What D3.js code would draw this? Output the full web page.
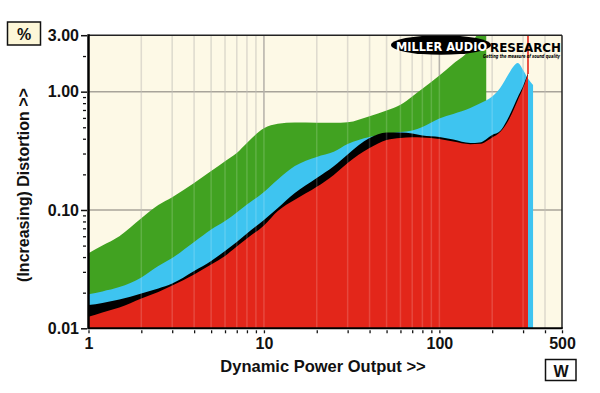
<!DOCTYPE html>
<html><head><meta charset="utf-8">
<script src="https://cdn.jsdelivr.net/npm/d3@7"></script>
<style>
html,body{margin:0;padding:0;background:#fff;}
svg{display:block;font-family:"Liberation Sans",Arial,sans-serif;}
</style>
</head><body>
<svg id="c" width="600" height="393"></svg>
<script>
// ---- data (power in W, distortion in %) ----
const greenW = [1,1.2,1.5,2,2.5,3,4,5,6,7,8,10,12,15,20,25,30,40,50,60,70,80,100,120,150,165,185];
const greenV = [0.043,0.050,0.060,0.085,0.110,0.128,0.169,0.213,0.258,0.303,0.368,0.49,0.535,0.549,0.546,0.545,0.552,0.621,0.692,0.775,0.911,1.056,1.371,1.721,2.323,3.0,3.0];

const blueW = [1,1.2,1.5,2,2.5,3,4,5,6,7,8,10,12,15,20,25,30,40,50,60,70,80,100,120,150,170,200,222,250,263,280,300,320,342];
const blueV = [0.0194,0.0205,0.0223,0.0269,0.0336,0.0393,0.0536,0.0684,0.0807,0.0953,0.111,0.142,0.181,0.235,0.281,0.310,0.361,0.414,0.439,0.456,0.470,0.503,0.594,0.648,0.728,0.795,0.911,1.075,1.439,1.618,1.749,1.526,1.293,1.139];

const blackW = [1,1.2,1.5,2,2.5,3,4,5,6,7,8,10,12,15,20,25,30,40,50,60,70,80,100,120,150,170,200,222,250,280,300,320];
const blackV = [0.0157,0.0164,0.0175,0.0197,0.0217,0.0239,0.0305,0.0371,0.0450,0.0536,0.0633,0.0823,0.104,0.139,0.186,0.234,0.295,0.405,0.452,0.452,0.443,0.425,0.414,0.394,0.368,0.372,0.431,0.465,0.623,0.902,1.117,1.439];

const redW = [1,1.2,1.5,2,2.5,3,4,5,6,7,8,10,12,15,20,25,30,40,50,60,70,80,100,120,150,170,200,222,250,280,300,320];
const redV = [0.0125,0.0136,0.0150,0.0179,0.0203,0.0230,0.0285,0.0346,0.0409,0.0491,0.0574,0.0740,0.098,0.122,0.157,0.198,0.250,0.334,0.391,0.406,0.412,0.410,0.398,0.379,0.360,0.362,0.410,0.456,0.588,0.851,1.075,1.411];

const redClipW = 320; // red trace shoots off the top here

const yMajor = [0.01,0.1,1,3];
const yMajorLabels = ["0.01","0.10","1.00","3.00"];
const yMinor = [0.02,0.03,0.04,0.05,0.06,0.07,0.08,0.09,0.2,0.3,0.4,0.5,0.6,0.7,0.8,0.9,2];
const xMajor = [1,10,100,500];
const xMajorLabels = ["1","10","100","500"];
const xMinor = [2,3,4,5,6,7,8,9,20,30,40,50,60,70,80,90,200,300,400];

// ---- layout ----
const L = 88.5, R = 562, T = 35.2, B = 328.3;
const svg = d3.select("#c");
const x = d3.scaleLog().domain([1,500]).range([L,R]);
const y = d3.scaleLog().domain([0.01,3]).range([B,T]);

svg.append("defs").append("clipPath").attr("id","plot")
  .append("rect").attr("x",L).attr("y",T).attr("width",R-L).attr("height",B-T);

// background
svg.append("rect").attr("x",L).attr("y",T).attr("width",R-L).attr("height",B-T).attr("fill","#fdf9e6");

// underlying grid
const gU = svg.append("g");
gU.selectAll("line.vm").data(xMinor).join("line")
  .attr("x1",d=>x(d)).attr("x2",d=>x(d)).attr("y1",T).attr("y2",B)
  .attr("stroke","#d9d5c6").attr("stroke-width",1.5);
gU.selectAll("line.vM").data([10,100]).join("line")
  .attr("x1",d=>x(d)).attr("x2",d=>x(d)).attr("y1",T).attr("y2",B)
  .attr("stroke","#aaa69c").attr("stroke-width",1.5);
gU.selectAll("line.h").data([0.1,1]).join("line")
  .attr("x1",L).attr("x2",R).attr("y1",d=>y(d)).attr("y2",d=>y(d))
  .attr("stroke","#a8a49a").attr("stroke-width",1.5);

// areas
const area = d3.area().x(d=>x(d[0])).y0(B).y1(d=>y(d[1])).curve(d3.curveMonotoneX);
const series = [
  {w:greenW, v:greenV, c:"#41a221"},
  {w:blueW,  v:blueV,  c:"#3ec4f0"},
  {w:blackW, v:blackV, c:"#000000"},
  {w:redW,   v:redV,   c:"#e3261a"}
];
const gA = svg.append("g").attr("clip-path","url(#plot)");
series.forEach(s=>{
  const pts = s.w.map((w,i)=>[w,s.v[i]]);
  gA.append("path").datum(pts).attr("d",area).attr("fill",s.c);
});
gA.append("line").attr("x1",x(redClipW)).attr("x2",x(redClipW))
  .attr("y1",T).attr("y2",y(redV[redV.length-1]))
  .attr("stroke","#e3261a").attr("stroke-width",1.6);

// overlay grid (faint lines over the fills)
const gO = svg.append("g");
gO.selectAll("line").data(xMinor.concat([10,100])).join("line")
  .attr("x1",d=>x(d)).attr("x2",d=>x(d)).attr("y1",T).attr("y2",B)
  .attr("stroke","#ffffff").attr("stroke-opacity",0.16).attr("stroke-width",1.5);

// logo
const gL = svg.append("g");
gL.append("ellipse").attr("cx",441).attr("cy",45).attr("rx",50).attr("ry",9.8).attr("fill","#000");
gL.append("text").attr("x",396).attr("y",50.5).attr("fill","#fff")
  .attr("font-family","'DejaVu Sans Condensed','DejaVu Sans',sans-serif").attr("font-weight","bold")
  .attr("font-size",12).attr("textLength",91).attr("lengthAdjust","spacingAndGlyphs").text("MILLER AUDIO");
gL.append("text").attr("x",490).attr("y",51.5).attr("fill","#000")
  .attr("font-family","'DejaVu Sans Condensed','DejaVu Sans',sans-serif").attr("font-weight","bold")
  .attr("font-size",12.5).attr("textLength",71).attr("lengthAdjust","spacingAndGlyphs").text("RESEARCH");
gL.append("text").attr("x",483).attr("y",58).attr("fill","#000")
  .attr("font-family","'DejaVu Sans Condensed','DejaVu Sans',sans-serif").attr("font-weight","bold").attr("font-style","italic")
  .attr("font-size",5.5).attr("textLength",77).attr("lengthAdjust","spacingAndGlyphs").text("Getting the measure of sound quality");

// frame
svg.append("line").attr("x1",L).attr("x2",R).attr("y1",T).attr("y2",T).attr("stroke","#222").attr("stroke-width",1.5);
svg.append("line").attr("x1",R).attr("x2",R).attr("y1",T).attr("y2",B).attr("stroke","#222").attr("stroke-width",1.5);

// y axis
const yMaj = svg.append("g").attr("transform",`translate(${L-1.5},0)`)
  .call(d3.axisLeft(y).tickValues(yMajor).tickSize(6).tickPadding(2)
    .tickFormat(d=>yMajorLabels[yMajor.indexOf(d)]));
yMaj.select(".domain").remove();
yMaj.selectAll("text").attr("font-size",16).attr("font-weight","bold").attr("fill","#111")
  .attr("font-family","'Liberation Sans',Arial,sans-serif");
yMaj.selectAll("line").attr("stroke","#111").attr("stroke-width",1.5);
const yMin = svg.append("g").attr("transform",`translate(${L-2.5},0)`)
  .call(d3.axisLeft(y).tickValues(yMinor).tickSize(3).tickFormat(""));
yMin.select(".domain").remove();
yMin.selectAll("line").attr("stroke","#111").attr("stroke-width",1.3);

// x axis
const xMaj = svg.append("g").attr("transform",`translate(0,${B+2})`)
  .call(d3.axisBottom(x).tickValues(xMajor).tickSize(3).tickPadding(4)
    .tickFormat(d=>xMajorLabels[xMajor.indexOf(d)]));
xMaj.select(".domain").remove();
xMaj.selectAll("text").attr("font-size",16).attr("font-weight","bold").attr("fill","#111")
  .attr("font-family","'Liberation Sans',Arial,sans-serif");
xMaj.selectAll("line").attr("stroke","#111").attr("stroke-width",1.3);
const xMin = svg.append("g").attr("transform",`translate(0,${B+2})`)
  .call(d3.axisBottom(x).tickValues(xMinor).tickSize(3).tickFormat(""));
xMin.select(".domain").remove();
xMin.selectAll("line").attr("stroke","#111").attr("stroke-width",1.3);

// main axis lines
svg.append("line").attr("x1",L).attr("x2",L).attr("y1",T-1).attr("y2",B+1).attr("stroke","#000").attr("stroke-width",2.5);
svg.append("line").attr("x1",L).attr("x2",R+0.75).attr("y1",B).attr("y2",B).attr("stroke","#000").attr("stroke-width",2);

// titles
svg.append("text").attr("x",323).attr("y",372).attr("text-anchor","middle")
  .attr("font-size",16.5).attr("font-weight","bold").attr("fill","#111").text("Dynamic Power Output >>");
svg.append("text").attr("transform","translate(29,185) rotate(-90)").attr("text-anchor","middle")
  .attr("font-size",16).attr("font-weight","bold").attr("fill","#111").text("(Increasing) Distortion >>");

// unit boxes
svg.append("rect").attr("x",7.5).attr("y",22).attr("width",33).attr("height",23)
  .attr("fill","#fdf7d8").attr("stroke","#111").attr("stroke-width",1.5);
svg.append("text").attr("x",24).attr("y",39.5).attr("text-anchor","middle")
  .attr("font-size",16).attr("font-weight","bold").attr("fill","#111").text("%");
svg.append("rect").attr("x",545.5).attr("y",359.5).attr("width",30.5).attr("height",21)
  .attr("fill","#fff").attr("stroke","#111").attr("stroke-width",1.5);
svg.append("text").attr("x",561).attr("y",376.5).attr("text-anchor","middle")
  .attr("font-size",16).attr("font-weight","bold").attr("fill","#111").text("W");
</script>
</body></html>
